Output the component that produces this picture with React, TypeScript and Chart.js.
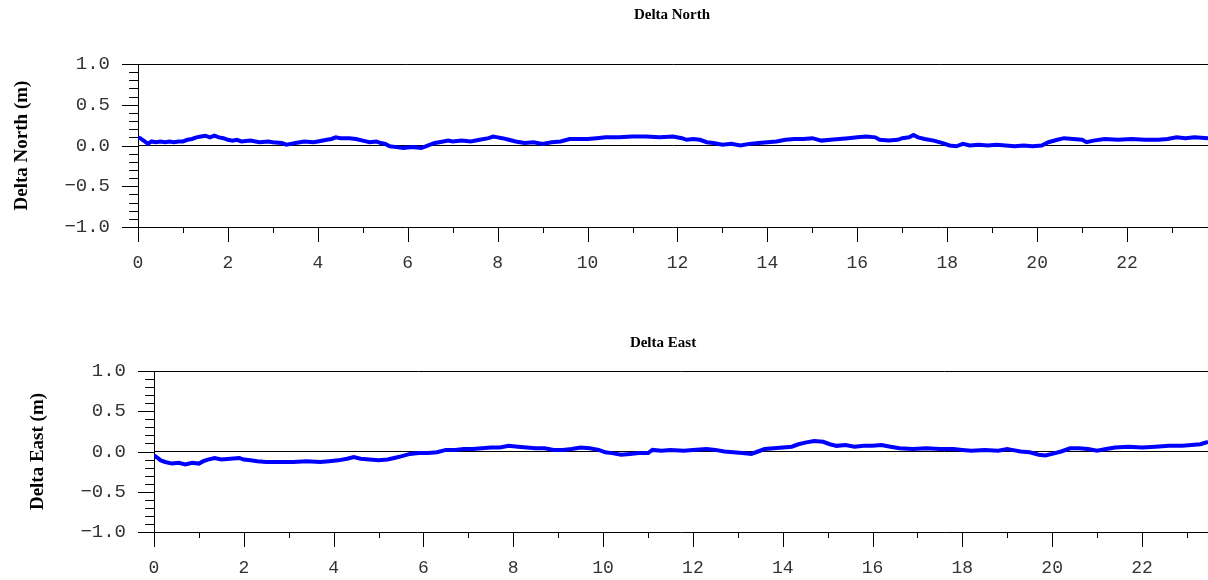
import React, { useEffect, useRef } from 'react';
import { Chart, registerables } from 'chart.js';

Chart.register(...registerables);

// ---- Data (hours since start, metres) ----
const northHours = [0, 0.05, 0.1, 0.15, 0.22, 0.3, 0.4, 0.5, 0.6, 0.7, 0.8, 0.9, 1.0, 1.1, 1.2, 1.3, 1.4, 1.5, 1.6, 1.7, 1.8, 1.9, 2.0, 2.1, 2.2, 2.3, 2.5, 2.7, 2.9, 3.0, 3.2, 3.3, 3.4, 3.5, 3.7, 3.9, 4.0, 4.2, 4.3, 4.4, 4.5, 4.7, 4.85, 5.0, 5.15, 5.3, 5.4, 5.5, 5.6, 5.75, 5.9, 6.1, 6.3, 6.4, 6.5, 6.6, 6.7, 6.9, 7.0, 7.2, 7.4, 7.6, 7.8, 7.9, 8.0, 8.1, 8.25, 8.4, 8.6, 8.8, 9.0, 9.2, 9.4, 9.6, 9.8, 10.0, 10.2, 10.4, 10.7, 11.0, 11.3, 11.6, 11.9, 12.1, 12.2, 12.35, 12.5, 12.65, 12.8, 13.0, 13.2, 13.4, 13.6, 13.8, 14.0, 14.2, 14.4, 14.6, 14.8, 15.0, 15.2, 15.4, 15.6, 15.8, 16.0, 16.2, 16.4, 16.5, 16.7, 16.9, 17.0, 17.15, 17.25, 17.35, 17.5, 17.7, 17.9, 18.05, 18.2, 18.35, 18.5, 18.7, 18.9, 19.1, 19.3, 19.5, 19.7, 19.9, 20.1, 20.25, 20.45, 20.6, 20.8, 21.0, 21.1, 21.25, 21.5, 21.8, 22.1, 22.4, 22.7, 22.9, 23.1, 23.3, 23.5, 23.8];
const northValues = [0.10, 0.09, 0.07, 0.05, 0.02, 0.05, 0.04, 0.05, 0.04, 0.05, 0.04, 0.05, 0.05, 0.07, 0.08, 0.10, 0.11, 0.12, 0.10, 0.12, 0.10, 0.09, 0.07, 0.06, 0.07, 0.05, 0.06, 0.04, 0.05, 0.04, 0.03, 0.01, 0.02, 0.03, 0.05, 0.04, 0.05, 0.07, 0.08, 0.10, 0.09, 0.09, 0.08, 0.06, 0.04, 0.05, 0.03, 0.02, -0.01, -0.02, -0.03, -0.02, -0.03, -0.01, 0.01, 0.03, 0.04, 0.06, 0.05, 0.06, 0.05, 0.07, 0.09, 0.11, 0.10, 0.09, 0.07, 0.05, 0.03, 0.04, 0.02, 0.04, 0.05, 0.08, 0.08, 0.08, 0.09, 0.10, 0.10, 0.11, 0.11, 0.10, 0.11, 0.09, 0.07, 0.08, 0.07, 0.04, 0.03, 0.01, 0.02, 0.00, 0.02, 0.03, 0.04, 0.05, 0.07, 0.08, 0.08, 0.09, 0.06, 0.07, 0.08, 0.09, 0.10, 0.11, 0.10, 0.07, 0.06, 0.07, 0.09, 0.10, 0.13, 0.10, 0.08, 0.06, 0.03, 0.00, -0.01, 0.02, 0.00, 0.01, 0.00, 0.01, 0.00, -0.01, 0.00, -0.01, 0.00, 0.04, 0.07, 0.09, 0.08, 0.07, 0.04, 0.06, 0.08, 0.07, 0.08, 0.07, 0.07, 0.08, 0.10, 0.09, 0.10, 0.09];

const eastHours = [0, 0.08, 0.15, 0.25, 0.4, 0.55, 0.7, 0.85, 1.0, 1.1, 1.2, 1.35, 1.5, 1.7, 1.9, 2.0, 2.15, 2.3, 2.5, 2.8, 3.1, 3.4, 3.7, 3.9, 4.1, 4.3, 4.45, 4.6, 4.8, 5.0, 5.2, 5.35, 5.5, 5.7, 5.9, 6.1, 6.3, 6.5, 6.7, 6.9, 7.1, 7.3, 7.5, 7.7, 7.9, 8.1, 8.3, 8.5, 8.7, 8.9, 9.1, 9.3, 9.5, 9.7, 9.9, 10.05, 10.2, 10.4, 10.6, 10.8, 11.0, 11.1, 11.3, 11.5, 11.8, 12.0, 12.3, 12.5, 12.7, 12.9, 13.1, 13.3, 13.45, 13.6, 13.8, 14.0, 14.2, 14.35, 14.5, 14.7, 14.9, 15.05, 15.2, 15.4, 15.6, 15.8, 16.0, 16.2, 16.4, 16.6, 16.9, 17.2, 17.5, 17.8, 18.0, 18.2, 18.5, 18.8, 19.0, 19.1, 19.3, 19.5, 19.7, 19.85, 20.0, 20.2, 20.4, 20.6, 20.8, 21.0, 21.2, 21.4, 21.7, 22.0, 22.3, 22.6, 22.9, 23.1, 23.3, 23.47];
const eastValues = [-0.05, -0.08, -0.11, -0.13, -0.15, -0.14, -0.16, -0.14, -0.15, -0.12, -0.10, -0.08, -0.10, -0.09, -0.08, -0.10, -0.11, -0.12, -0.13, -0.13, -0.13, -0.12, -0.13, -0.12, -0.11, -0.09, -0.07, -0.09, -0.10, -0.11, -0.10, -0.08, -0.06, -0.03, -0.02, -0.02, -0.01, 0.02, 0.02, 0.03, 0.03, 0.04, 0.05, 0.05, 0.07, 0.06, 0.05, 0.04, 0.04, 0.02, 0.02, 0.03, 0.05, 0.04, 0.02, -0.01, -0.02, -0.04, -0.03, -0.02, -0.02, 0.02, 0.01, 0.02, 0.01, 0.02, 0.03, 0.02, 0.00, -0.01, -0.02, -0.03, 0.00, 0.03, 0.04, 0.05, 0.06, 0.09, 0.11, 0.13, 0.12, 0.09, 0.07, 0.08, 0.06, 0.07, 0.07, 0.08, 0.06, 0.04, 0.03, 0.04, 0.03, 0.03, 0.02, 0.01, 0.02, 0.01, 0.03, 0.02, 0.00, -0.01, -0.04, -0.05, -0.03, 0.00, 0.04, 0.04, 0.03, 0.01, 0.03, 0.05, 0.06, 0.05, 0.06, 0.07, 0.07, 0.08, 0.09, 0.12];

const xTickLabels = [0, 2, 4, 6, 8, 10, 12, 14, 16, 18, 20, 22];
const yTickLabels = [-1.0, -0.5, 0.0, 0.5, 1.0];

const fmtY = (v: number) => (v < 0 ? '\u2212' : '') + Math.abs(v).toFixed(1);

const decorPlugin = {
  id: 'decor',
  afterDraw(chart: any, _args: any, opts: any) {
    const { ctx, chartArea } = chart;
    const x = chart.scales.x;
    const y = chart.scales.y;
    ctx.save();
    ctx.strokeStyle = '#000';
    ctx.lineWidth = 1;
    ctx.beginPath();
    // y ticks: major every 0.5, minor every 0.1
    for (let i = -10; i <= 10; i++) {
      const py = Math.round(y.getPixelForValue(i / 10)) + 0.5;
      const len = i % 5 === 0 ? 16 : 9;
      ctx.moveTo(chartArea.left - len, py);
      ctx.lineTo(chartArea.left, py);
    }
    // x ticks: major at even hours, minor at odd
    for (let h = 0; h <= Math.floor(x.max); h++) {
      const px = Math.round(x.getPixelForValue(h)) + 0.5;
      const len = h % 2 === 0 ? 15 : 6;
      ctx.moveTo(px, chartArea.bottom);
      ctx.lineTo(px, chartArea.bottom + len);
    }
    ctx.stroke();
    // chart title
    ctx.fillStyle = '#000';
    ctx.font = 'bold 15px "Liberation Serif", serif';
    ctx.textAlign = 'center';
    ctx.textBaseline = 'middle';
    ctx.fillText(opts.text, opts.x, opts.y);
    ctx.restore();
  },
};

function makeChart(canvas: HTMLCanvasElement, p: {
  hours: number[]; values: number[]; title: string; axisTitle: string;
  left: number; top: number; bottom: number; xMax: number; titleX: number; titleY: number; axisTitlePad: number;
}) {
  return new Chart(canvas, {
    type: 'line',
    data: {
      datasets: [{
        data: p.hours.map((h, i) => ({ x: h, y: p.values[i] })),
        borderColor: '#0000ff',
        borderWidth: 4,
        pointRadius: 0,
        tension: 0,
        fill: false,
      }],
    },
    options: {
      animation: false,
      responsive: false,
      devicePixelRatio: 1,
      layout: { padding: { top: p.top, left: 0, right: 0, bottom: 0 } },
      plugins: {
        legend: { display: false },
        tooltip: { enabled: false },
        title: { display: false },
        decor: { text: p.title, x: p.titleX, y: p.titleY },
      } as any,
      scales: {
        x: {
          type: 'linear',
          min: 0,
          max: p.xMax,
          afterBuildTicks: (scale: any) => { scale.ticks = xTickLabels.map((v) => ({ value: v })); },
          afterFit: (scale: any) => { scale.height = 290 - p.bottom; },
          grid: { display: false, drawTicks: false },
          border: { display: true, color: '#000', width: 1 },
          ticks: {
            padding: 25,
            color: '#333',
            font: { family: '"Liberation Mono", monospace', size: 18 },
            maxRotation: 0,
            autoSkip: false,
            callback: (v: any) => String(v),
          },
        },
        y: {
          type: 'linear',
          min: -1,
          max: 1,
          afterBuildTicks: (scale: any) => { scale.ticks = yTickLabels.map((v) => ({ value: v })); },
          afterFit: (scale: any) => { scale.width = p.left; },
          grid: {
            display: true,
            drawTicks: false,
            color: (c: any) => (c.tick && (Math.abs(c.tick.value) < 1e-9 || Math.abs(c.tick.value - 1) < 1e-9) ? '#000' : 'rgba(0,0,0,0)'),
            lineWidth: 1,
          },
          border: { display: true, color: '#000', width: 1 },
          title: {
            display: true,
            text: p.axisTitle,
            color: '#000',
            font: { family: '"Liberation Serif", serif', size: 19, weight: 'bold' },
            padding: { top: p.axisTitlePad, bottom: 0 },
          },
          ticks: {
            padding: 28,
            color: '#333',
            font: { family: '"Liberation Mono", monospace', size: 19 },
            callback: (v: any) => fmtY(Number(v)),
          },
        },
      },
    },
    plugins: [decorPlugin],
  } as any);
}

export default function App() {
  const topRef = useRef<HTMLCanvasElement>(null);
  const botRef = useRef<HTMLCanvasElement>(null);

  useEffect(() => {
    const c1 = makeChart(topRef.current!, {
      hours: northHours, values: northValues, title: 'Delta North', axisTitle: 'Delta North (m)',
      left: 138, top: 64, bottom: 227, xMax: 23.8, titleX: 672, titleY: 15, axisTitlePad: 11,
    });
    const c2 = makeChart(botRef.current!, {
      hours: eastHours, values: eastValues, title: 'Delta East', axisTitle: 'Delta East (m)',
      left: 154, top: 81, bottom: 242, xMax: 23.47, titleX: 663, titleY: 53, axisTitlePad: 27,
    });
    return () => { c1.destroy(); c2.destroy(); };
  }, []);

  return (
    <div style={{ position: 'absolute', left: 0, top: 0, width: 1208, height: 580, background: '#fff' }}>
      <canvas ref={topRef} width={1208} height={290} style={{ position: 'absolute', left: 0, top: 0, width: 1208, height: 290 }} />
      <canvas ref={botRef} width={1208} height={290} style={{ position: 'absolute', left: 0, top: 290, width: 1208, height: 290 }} />
    </div>
  );
}
